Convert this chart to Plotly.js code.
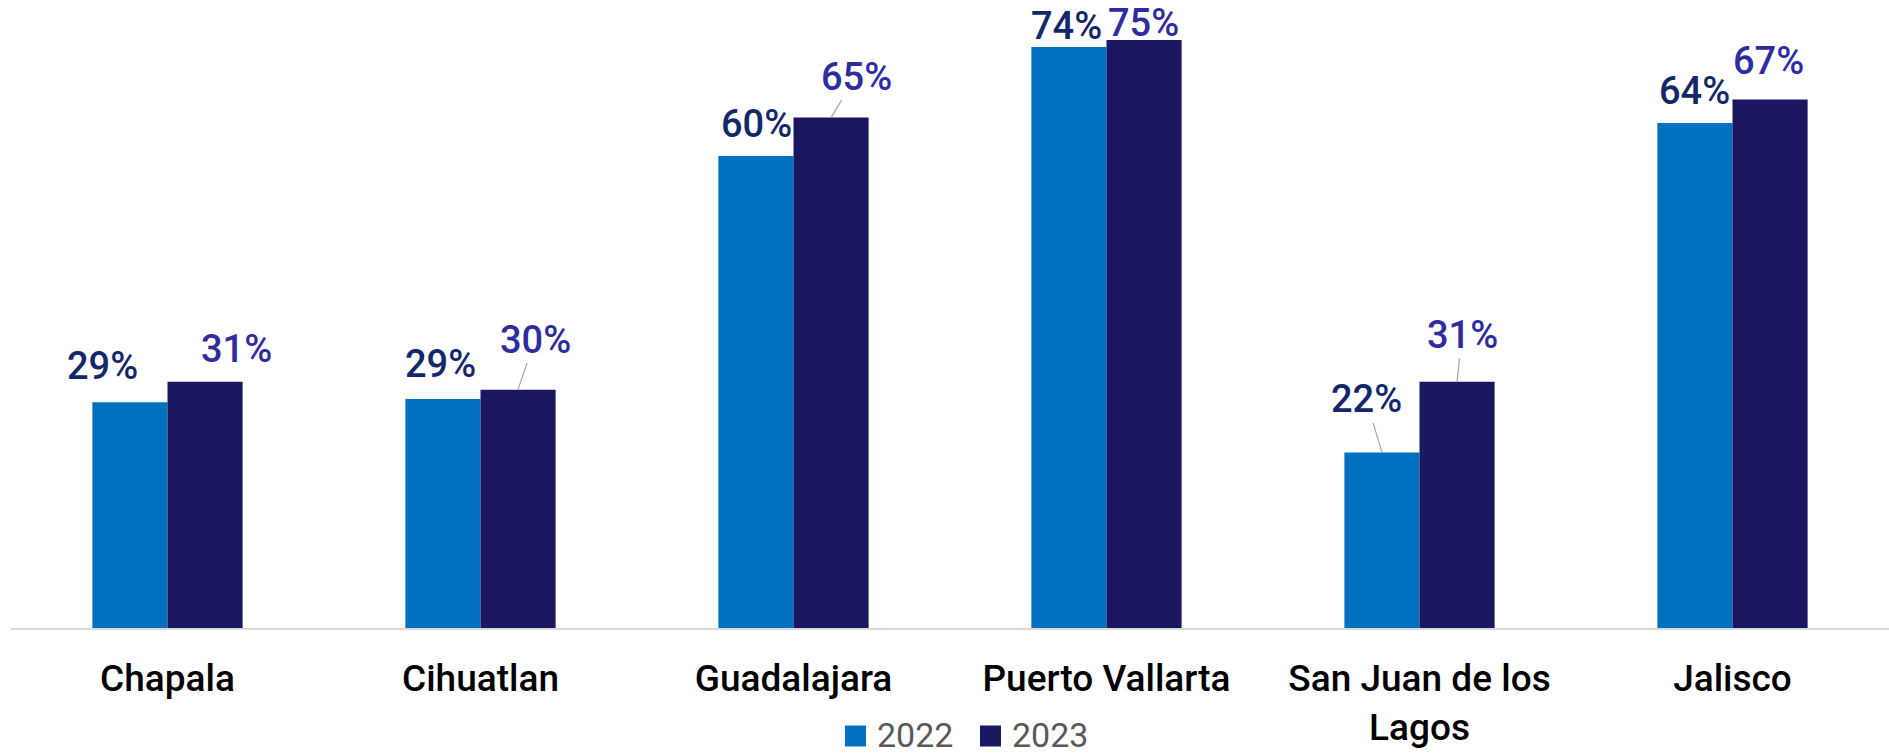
<!DOCTYPE html>
<html>
<head>
<meta charset="utf-8">
<script src="https://cdn.plot.ly/plotly-3.0.1.min.js"></script>
<style>
  html, body { margin: 0; padding: 0; background: #ffffff; }
  #chart { width: 1889px; height: 754px; }
</style>
</head>
<body>
<div id="chart"></div>
<script>
// ---- data ----
const categories = ["Chapala", "Cihuatlan", "Guadalajara", "Puerto Vallarta", "San Juan de los<br>Lagos", "Jalisco"];
const series2022 = [0.288, 0.292, 0.602, 0.741, 0.224, 0.644];
const series2023 = [0.314, 0.304, 0.651, 0.750, 0.314, 0.674];
const seriesNames = ["2022", "2023"];

// ---- label placement (pixel offsets from the bar top, leader line flag) ----
const offsets2022 = [[-28, -36, false], [-3, -35, false], [0, -32, false], [-3, -21, false], [-16, -53, true], [-1, -32, false]];
const offsets2023 = [[31, -33, false], [17, -50, true], [25, -41, true], [-1, -17, false], [5, -47, true], [-2, -39, false]];

const colors = ["#0070c0", "#1a1760"];
const labelColors = ["#12286b", "#2f2c9f"];
const barHalfOffset = 37.5;

// plot-area geometry (px) used to place the custom legend
const W = 1889, H = 754;
const M = { l: 11, r: 0, t: 8, b: 126 };
const PW = W - M.l - M.r, PH = H - M.t - M.b;
const px2x = X => (X - M.l) / PW;
const px2y = Y => (H - M.b - Y) / PH;

const fmt = v => Math.round(v * 100) + "%";

function makeAnnotations(values, offs, sign, color) {
  return values.map((v, i) => ({
    x: categories[i], y: v, xref: "x", yref: "y",
    xshift: sign * barHalfOffset,
    text: fmt(v),
    showarrow: true, arrowhead: 0, arrowwidth: 1.2,
    arrowcolor: offs[i][2] ? "#a6a6a6" : "rgba(0,0,0,0)",
    ax: offs[i][0], ay: offs[i][1], standoff: 0,
    font: { family: "Roboto, sans-serif", size: 38, color: color, weight: 500 }
  }));
}

// custom legend: swatch centres and text centres in px
const legendSwatchX = [855.5, 990.5];
const legendTextX = [914.5, 1049.5];
const legendY = 736;
const swatch = 21;

const legendShapes = seriesNames.map((n, i) => ({
  type: "rect", xref: "paper", yref: "paper",
  xsizemode: "pixel", ysizemode: "pixel",
  xanchor: px2x(legendSwatchX[i]), yanchor: px2y(legendY),
  x0: -swatch / 2, x1: swatch / 2, y0: -swatch / 2, y1: swatch / 2,
  fillcolor: colors[i], line: { width: 0 }
}));
const legendTexts = seriesNames.map((n, i) => ({
  xref: "paper", yref: "paper",
  x: px2x(legendTextX[i]), y: px2y(legendY - 1),
  xanchor: "center", yanchor: "middle", showarrow: false,
  borderpad: 0,
  text: n,
  font: { family: "Roboto, sans-serif", size: 34, color: "#595959" }
}));

const traces = [
  { type: "bar", name: seriesNames[0], x: categories, y: series2022, marker: { color: colors[0] }, hoverinfo: "skip" },
  { type: "bar", name: seriesNames[1], x: categories, y: series2023, marker: { color: colors[1] }, hoverinfo: "skip" }
];

const layout = {
  width: W, height: H,
  margin: M,
  paper_bgcolor: "#ffffff", plot_bgcolor: "rgba(0,0,0,0)",
  barmode: "group", bargap: 0.52, bargroupgap: 0,
  font: { family: "Roboto, sans-serif", color: "#000000" },
  xaxis: {
    type: "category", automargin: false,
    categoryarray: categories, categoryorder: "array",
    showline: true, linecolor: "#d9d9d9", linewidth: 2,
    showgrid: false, zeroline: false, ticks: "",
    tickfont: { family: "Roboto, sans-serif", size: 37, color: "#000000", weight: 500 },
    ticklabelstandoff: 17
  },
  yaxis: { range: [0, 0.7908], visible: false, showgrid: false, zeroline: false, automargin: false },
  showlegend: false,
  shapes: legendShapes,
  annotations: makeAnnotations(series2022, offsets2022, -1, labelColors[0])
    .concat(makeAnnotations(series2023, offsets2023, 1, labelColors[1]))
    .concat(legendTexts)
};

Plotly.newPlot("chart", traces, layout, { displayModeBar: false, staticPlot: true });
</script>
</body>
</html>
